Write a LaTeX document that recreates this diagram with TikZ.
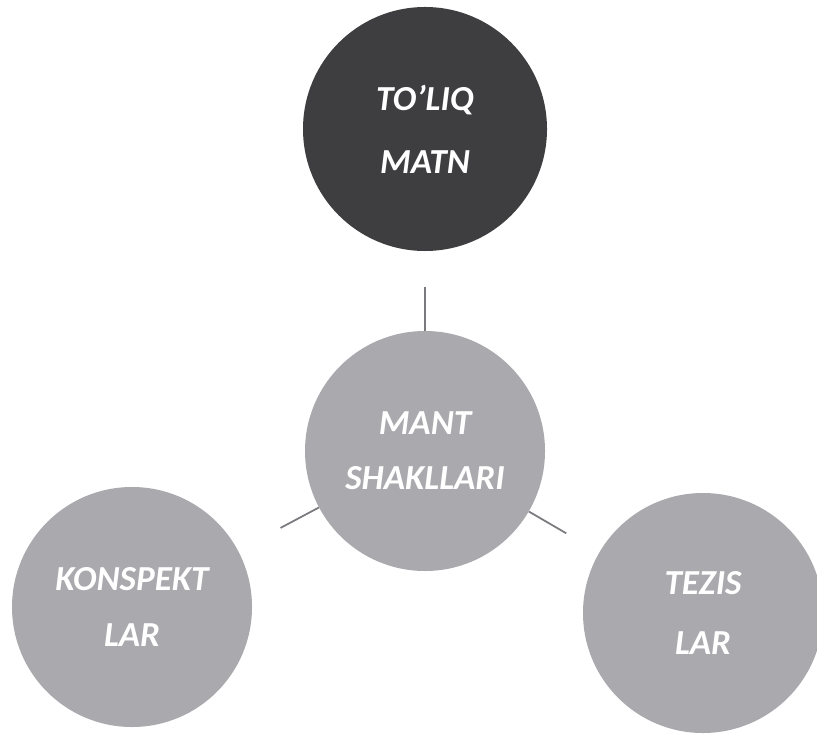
\documentclass[tikz,border=0pt]{standalone}
\usepackage{fontspec}
\setmainfont{Carlito}
\definecolor{darkbubble}{HTML}{3E3E40}
\definecolor{bubblegray}{HTML}{A9A9AE}
\definecolor{linegray}{HTML}{7A7A7E}
\begin{document}
\begin{tikzpicture}[x=0.03cm,y=-0.03cm,
  bubble/.style={circle, inner sep=0pt, minimum size=7.2cm, fill=bubblegray, text=white, align=center},
  lbl/.style={font=\bfseries\itshape\fontsize{30}{#1}\selectfont},
  link/.style={draw=linegray, line width=1.5pt}]
\clip (0,0) rectangle (817,738);
\fill[white] (0,0) rectangle (817,738);
\node[bubble, minimum size=7.32cm, fill=darkbubble, lbl=54] (top) at (425,129) {TO’LIQ\\MATN};
\node[bubble, lbl=47] (mid) at (425,451) {MANT\\SHAKLLARI};
\node[bubble, lbl=48] (left) at (132,607) {KONSPEKT\\LAR};
\node[bubble, lbl=51] (right) at (703,613) {TEZIS\\LAR};
\draw[link, shorten <=1.08cm] (top) -- (mid);
\draw[link, shorten >=1.44cm] (mid) -- (left);
\draw[link, shorten >=1.14cm] (mid) -- (right);
\end{tikzpicture}
\end{document}
